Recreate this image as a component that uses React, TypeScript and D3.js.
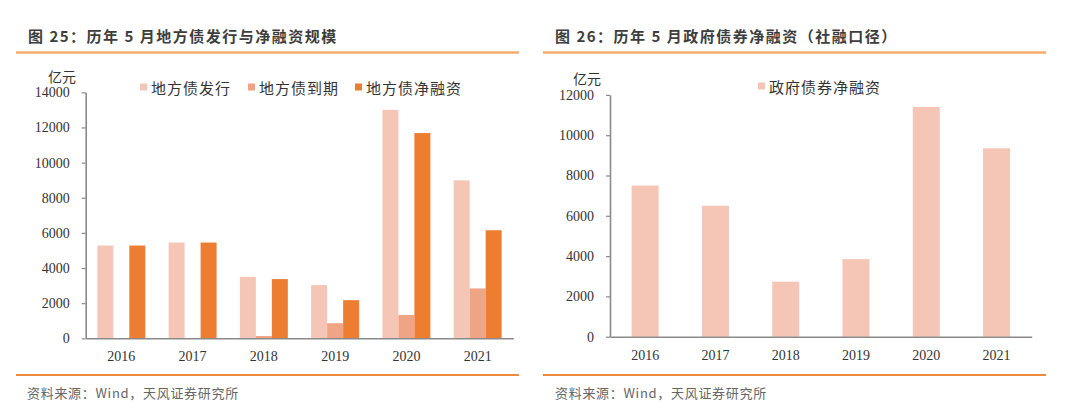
import * as d3 from "d3";
import { useRef, useEffect } from "react";

const years = ["2016", "2017", "2018", "2019", "2020", "2021"];
const issuance = [5280, 5450, 3500, 3030, 13000, 8990];
const maturity = [0, 0, 130, 860, 1330, 2840];
const netFinancing = [5280, 5450, 3370, 2170, 11680, 6150];
const govNet = [7500, 6500, 2730, 3850, 11400, 9350];

const leftSeries = ["地方债发行", "地方债到期", "地方债净融资"];
const leftColors = ["#F5C6B5", "#F0A486", "#ED7D31"];
const rightSeries = ["政府债券净融资"];
const rightColors = ["#F5C6B6"];

const leftTicks = [0, 2000, 4000, 6000, 8000, 10000, 12000, 14000];
const rightTicks = [0, 2000, 4000, 6000, 8000, 10000, 12000];

const leftTitle = "图 25：历年 5 月地方债发行与净融资规模";
const rightTitle = "图 26：历年 5 月政府债券净融资（社融口径）";
const source = "资料来源：Wind，天风证券研究所";
const unit = "亿元";

const CJK = "'Noto Sans CJK SC', 'Noto Sans', sans-serif";
const SERIF = "'Liberation Serif', 'DejaVu Serif', serif";

function Axes({
  x,
  y,
  ticks,
  height,
}: {
  x: d3.ScaleBand<string>;
  y: d3.ScaleLinear<number, number>;
  ticks: number[];
  height: number;
}) {
  const gx = useRef<SVGGElement>(null);
  const gy = useRef<SVGGElement>(null);

  useEffect(() => {
    const g = d3.select(gx.current!);
    g.call(d3.axisBottom(x).tickSize(0).tickPadding(13));
    g.select(".domain").attr("stroke", "#8a8a8a").attr("stroke-width", 1.6);
    g.selectAll("text")
      .attr("font-family", SERIF)
      .attr("font-size", 14)
      .attr("fill", "#333");
  }, [x]);

  useEffect(() => {
    const g = d3.select(gy.current!);
    g.call(
      d3.axisLeft(y).tickValues(ticks).tickFormat(d3.format("d")).tickSize(4).tickSizeOuter(0).tickPadding(12),
    );
    g.select(".domain").attr("stroke", "#8a8a8a").attr("stroke-width", 1.6);
    g.selectAll(".tick line").attr("stroke", "#8a8a8a").attr("stroke-width", 1.2);
    g.selectAll("text")
      .attr("font-family", SERIF)
      .attr("font-size", 14)
      .attr("fill", "#333");
  }, [y, ticks]);

  return (
    <>
      <g ref={gy} transform={`translate(${x.range()[0]},0)`} />
      <g ref={gx} transform={`translate(0,${height})`} />
    </>
  );
}

function Frame({
  title,
  x0,
  x1,
  titleX,
  footX,
}: {
  title: string;
  x0: number;
  x1: number;
  titleX: number;
  footX: number;
}) {
  return (
    <g>
      <text
        x={titleX}
        y={35}
        dominantBaseline="central"
        fontFamily={CJK}
        fontWeight="bold"
        fontSize={15}
        letterSpacing={1.5}
        fill="#3d3d3d"
      >
        {title}
      </text>
      <line x1={x0} x2={x1} y1={52.5} y2={52.5} stroke="#F7AB6E" strokeWidth={2.5} />
      <line x1={x0} x2={x1} y1={375} y2={375} stroke="#EF8B3E" strokeWidth={2} />
      <text
        x={footX}
        y={392}
        dominantBaseline="central"
        fontFamily={CJK}
        fontSize={13}
        letterSpacing={0.7}
        fill="#666"
      >
        {source}
      </text>
    </g>
  );
}

function LeftChart() {
  const x = d3.scaleBand<string>(years, [85.7, 513.3]).paddingInner(0.327).paddingOuter(0.1635);
  const y = d3.scaleLinear([0, 14000], [338.3, 92.3]);
  const sub = d3.scaleBand<number>([0, 1, 2], [0, x.bandwidth()]);
  const series = [issuance, maturity, netFinancing];
  const legendX = [140, 248, 355];

  return (
    <g>
      <Frame title={leftTitle} x0={16} x1={519} titleX={28} footX={27} />
      <text x={62} y={76} textAnchor="middle" dominantBaseline="central" fontFamily={CJK} fontSize={14} fill="#333">
        {unit}
      </text>
      {series.map((vals, si) => (
        <g key={si} fill={leftColors[si]}>
          {vals.map((v, i) =>
            v > 0 ? (
              <rect
                key={i}
                x={x(years[i])! + sub(si)!}
                y={y(v)}
                width={sub.bandwidth()}
                height={y(0) - y(v)}
              />
            ) : null,
          )}
        </g>
      ))}
      <Axes x={x} y={y} ticks={leftTicks} height={y(0)} />
      {leftSeries.map((s, i) => (
        <g key={s} transform={`translate(${legendX[i]},87)`}>
          <rect x={0} y={-3.5} width={7} height={7} fill={leftColors[i]} />
          <text x={11} y={0} dominantBaseline="central" fontFamily={CJK} fontSize={15} letterSpacing={1} fill="#333">
            {s}
          </text>
        </g>
      ))}
    </g>
  );
}

function RightChart() {
  const x = d3.scaleBand<string>(years, [610, 1031.7]).paddingInner(0.616).paddingOuter(0.308);
  const y = d3.scaleLinear([0, 12000], [336.7, 94.9]);

  return (
    <g>
      <Frame title={rightTitle} x0={543} x1={1046} titleX={555} footX={555} />
      <text x={587} y={78} textAnchor="middle" dominantBaseline="central" fontFamily={CJK} fontSize={14} fill="#333">
        {unit}
      </text>
      <g fill={rightColors[0]}>
        {govNet.map((v, i) => (
          <rect key={i} x={x(years[i])} y={y(v)} width={x.bandwidth()} height={y(0) - y(v)} />
        ))}
      </g>
      <Axes x={x} y={y} ticks={rightTicks} height={y(0)} />
      {rightSeries.map((s, i) => (
        <g key={s} transform={`translate(758,86)`}>
          <rect x={0} y={-3.5} width={7} height={7} fill={rightColors[i]} />
          <text x={11} y={0} dominantBaseline="central" fontFamily={CJK} fontSize={15} letterSpacing={1} fill="#333">
            {s}
          </text>
        </g>
      ))}
    </g>
  );
}

export default function App() {
  return (
    <svg
      width={1080}
      height={419}
      style={{ position: "absolute", left: 0, top: 0, background: "#fff" }}
    >
      <rect width={1080} height={419} fill="#fff" />
      <LeftChart />
      <RightChart />
    </svg>
  );
}
